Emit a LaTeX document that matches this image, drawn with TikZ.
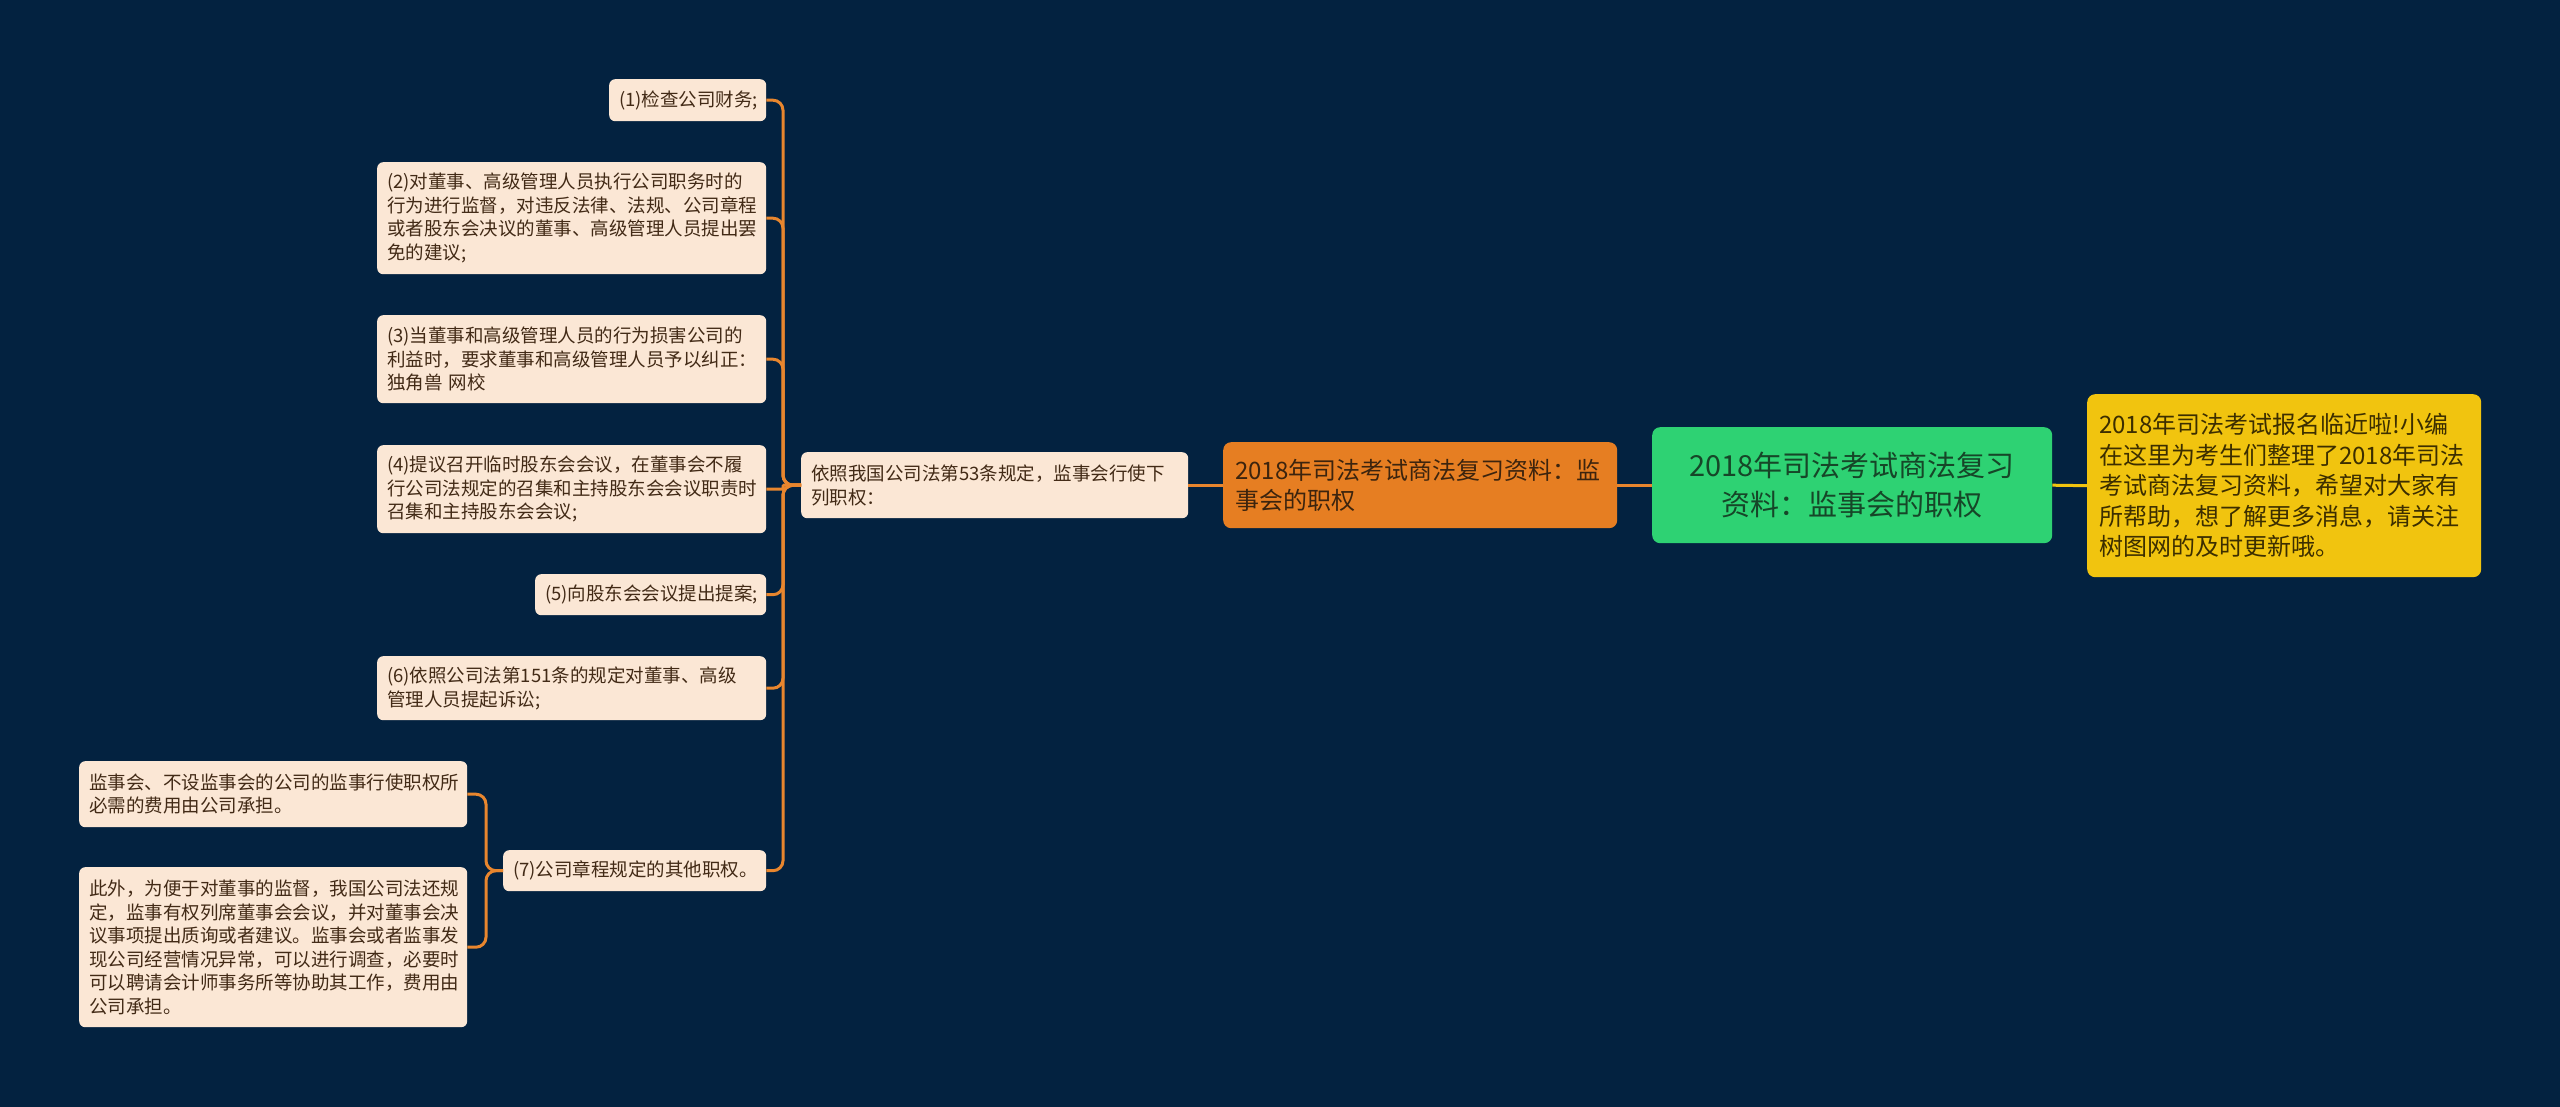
\documentclass[tikz,border=0pt]{standalone}
\usepackage{fontspec}
\setmainfont{Noto Sans CJK SC}
\definecolor{bgc}{RGB}{3,34,64}
\definecolor{peach}{RGB}{251,231,213}
\definecolor{brownt}{RGB}{66,42,22}
\definecolor{orangef}{RGB}{230,126,34}
\definecolor{oranget}{RGB}{60,36,14}
\definecolor{greenf}{RGB}{46,210,115}
\definecolor{greent}{RGB}{22,70,40}
\definecolor{yellowf}{RGB}{241,196,15}
\definecolor{yellowt}{RGB}{60,46,0}
\definecolor{linec}{RGB}{232,134,46}
\definecolor{liney}{RGB}{241,196,15}
\tikzset{
  leafbox/.style={anchor=north west, fill=peach, text=brownt, rounded corners=6pt,
    inner xsep=10pt, inner ysep=0pt, align=left,
    font=\fontsize{18.5}{23.5}\selectfont},
  bigbox/.style={anchor=north west, rounded corners=8pt, inner xsep=12pt, inner ysep=0pt},
  conn/.style={draw=linec, line width=3pt, rounded corners=10pt},
  conny/.style={draw=liney, line width=3pt},
}
\begin{document}
\begin{tikzpicture}[x=1pt,y=-1pt]
\useasboundingbox (0,0) rectangle (2560,1107);
\fill[bgc] (0,0) rectangle (2560,1107);

% main nodes
\node[bigbox, fill=greenf, text=greent, align=center, text width=376pt, minimum height=116pt,
  font=\fontsize{29}{39}\selectfont] (root) at (1652,427)
  {2018年司法考试商法复习\\资料：监事会的职权};
\node[bigbox, fill=yellowf, text=yellowt, align=left, text width=370pt, minimum height=183pt,
  font=\fontsize{24}{30.5}\selectfont] (intro) at (2087,394)
  {2018年司法考试报名临近啦!小编\\在这里为考生们整理了2018年司法\\考试商法复习资料，希望对大家有\\所帮助，想了解更多消息，请关注\\树图网的及时更新哦。};
\node[bigbox, fill=orangef, text=oranget, align=left, text width=370pt, minimum height=86pt,
  font=\fontsize{24}{30}\selectfont] (topic) at (1223,442)
  {2018年司法考试商法复习资料：监\\事会的职权};

\node[leafbox, text width=367pt, minimum height=66pt] (yz) at (801,452)
  {依照我国公司法第53条规定，监事会行使下\\列职权：};

\node[leafbox, text width=137pt, minimum height=42pt] (c1) at (609,79)
  {(1)检查公司财务;};
\node[leafbox, text width=369pt, minimum height=112pt] (c2) at (377,162)
  {(2)对董事、高级管理人员执行公司职务时的\\行为进行监督，对违反法律、法规、公司章程\\或者股东会决议的董事、高级管理人员提出罢\\免的建议;};
\node[leafbox, text width=369pt, minimum height=88pt] (c3) at (377,315)
  {(3)当董事和高级管理人员的行为损害公司的\\利益时，要求董事和高级管理人员予以纠正：\\独角兽 网校};
\node[leafbox, text width=369pt, minimum height=88pt] (c4) at (377,445)
  {(4)提议召开临时股东会会议，在董事会不履\\行公司法规定的召集和主持股东会会议职责时\\召集和主持股东会会议;};
\node[leafbox, text width=211pt, minimum height=41pt] (c5) at (535,574)
  {(5)向股东会会议提出提案;};
\node[leafbox, text width=369pt, minimum height=64pt] (c6) at (377,656)
  {(6)依照公司法第151条的规定对董事、高级\\管理人员提起诉讼;};
\node[leafbox, text width=243pt, minimum height=41pt] (c7) at (503,850)
  {(7)公司章程规定的其他职权。};

\node[leafbox, text width=368pt, minimum height=66pt] (d1) at (79,761)
  {监事会、不设监事会的公司的监事行使职权所\\必需的费用由公司承担。};
\node[leafbox, text width=368pt, minimum height=160pt] (d2) at (79,867)
  {此外，为便于对董事的监督，我国公司法还规\\定，监事有权列席董事会会议，并对董事会决\\议事项提出质询或者建议。监事会或者监事发\\现公司经营情况异常，可以进行调查，必要时\\可以聘请会计师事务所等协助其工作，费用由\\公司承担。};

% connectors
\draw[conny] (root.east) -- (intro.west);
\draw[conn] (root.west) -- (topic.east);
\draw[conn] (topic.west) -- (yz.east);
\foreach \c in {c1,c2,c3,c5,c6,c7}
  \draw[conn] (yz.west) -- ++(-18,0) |- (\c.east);
\draw[conn, rounded corners=1pt] (yz.west) -- ++(-18,0) |- (c4.east);
\foreach \c in {d1,d2}
  \draw[conn] (c7.west) -- ++(-17,0) |- (\c.east);
\end{tikzpicture}
\end{document}
